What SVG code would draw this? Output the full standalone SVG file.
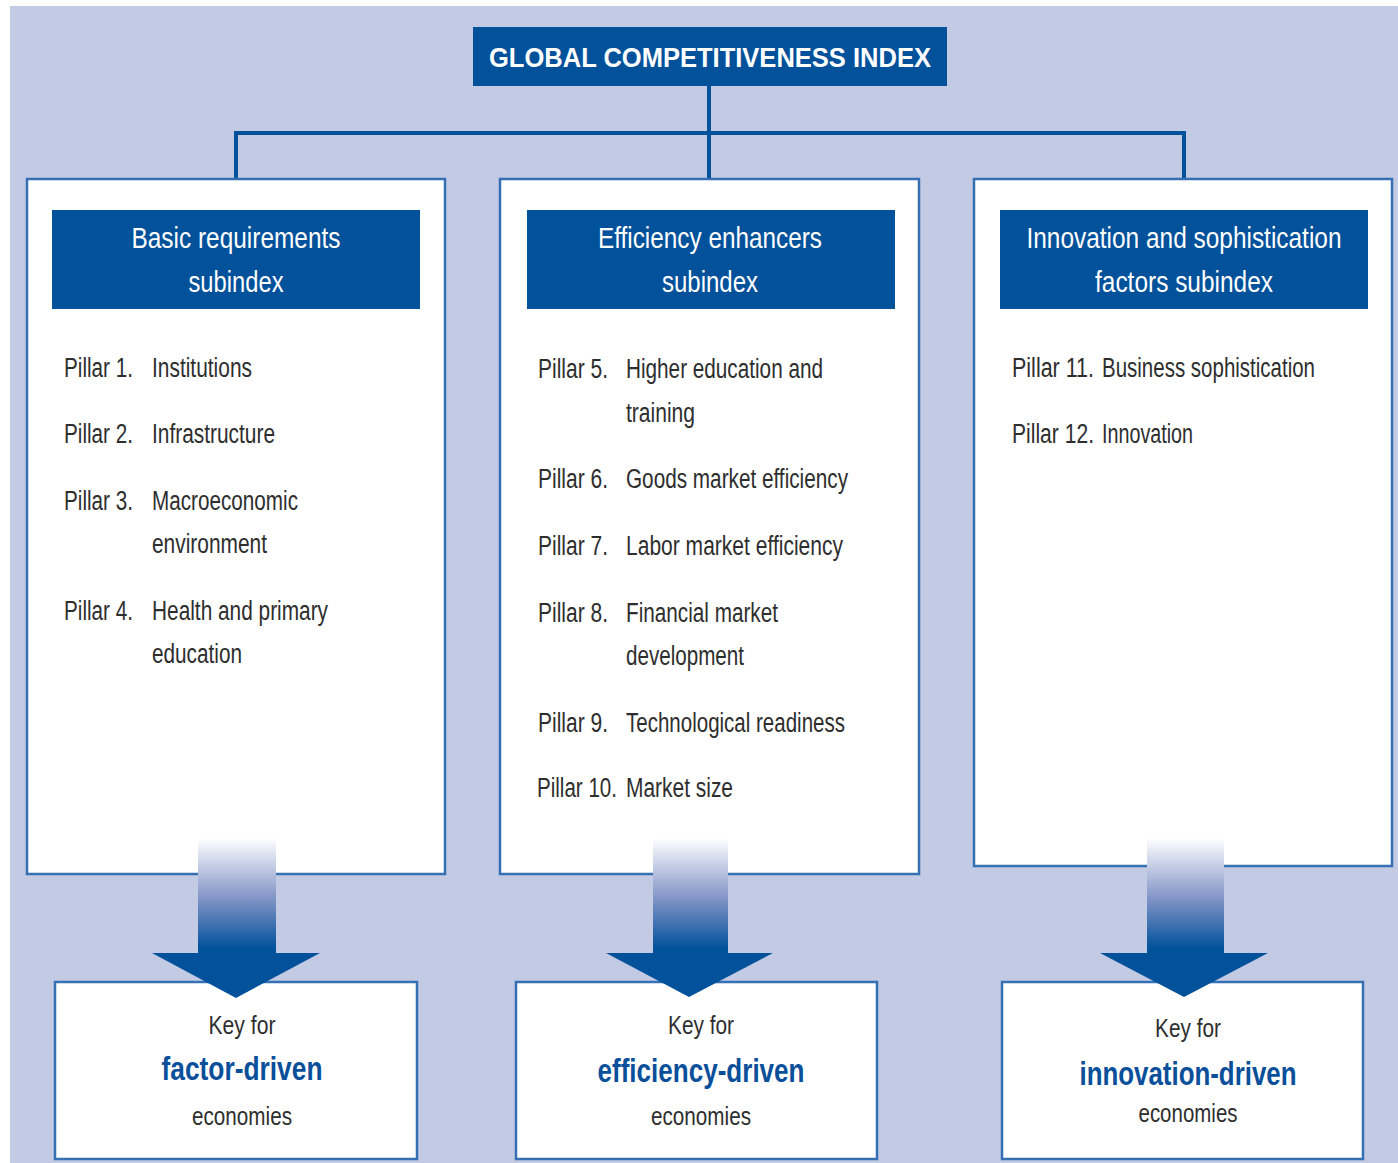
<svg xmlns="http://www.w3.org/2000/svg" width="1398" height="1163" viewBox="0 0 1398 1163">
<style>
.bg{fill:#C3CAE3}
.dark{fill:#02519B}
.panel{fill:#FFFFFF;stroke:#3670B4;stroke-width:2.5}
.conn{fill:none;stroke:#02519B;stroke-width:4}
.t{font-family:"Liberation Sans Narrow","Liberation Sans",Arial,sans-serif}
.title{font-family:"Liberation Sans",Arial,sans-serif;font-weight:bold;font-size:27px;fill:#FFFFFF}
.hdr{font-size:30px;fill:#FFFFFF;text-anchor:middle}
.pl{font-size:27px;fill:#2E2E2E}
.key{font-size:26px;fill:#2E2E2E;text-anchor:middle}
.drv{font-size:33px;font-weight:bold;fill:#0A4F9A;text-anchor:middle}
</style>
<defs>
<linearGradient id="shaft" x1="0" y1="0" x2="0" y2="1">
<stop offset="0" stop-color="#FFFFFF"/>
<stop offset="0.5" stop-color="#8798C9"/>
<stop offset="0.95" stop-color="#02519B"/>
<stop offset="1" stop-color="#02519B"/>
</linearGradient>
</defs>
<rect class="bg" x="10" y="6" width="1388" height="1157"/>

<g id="connectors">
<path class="conn" d="M709,86 V179"/>
<path class="conn" d="M236,179 V133 H1184 V179"/>
</g>

<g id="gci">
<rect class="dark" x="473" y="27" width="474" height="59"/>
<text class="title" x="489" y="67" textLength="442" lengthAdjust="spacingAndGlyphs">GLOBAL COMPETITIVENESS INDEX</text>
</g>

<g id="basic">
<rect class="panel" x="27" y="179" width="418" height="695"/>
<rect class="dark" x="52" y="210" width="368" height="99"/>
<text class="t hdr" x="236" y="248" textLength="209" lengthAdjust="spacingAndGlyphs">Basic requirements</text>
<text class="t hdr" x="236" y="292" textLength="95" lengthAdjust="spacingAndGlyphs">subindex</text>
<text class="t pl" x="64" y="377" textLength="69" lengthAdjust="spacingAndGlyphs">Pillar 1.</text>
<text class="t pl" x="152" y="377" textLength="100" lengthAdjust="spacingAndGlyphs">Institutions</text>
<text class="t pl" x="64" y="443" textLength="69" lengthAdjust="spacingAndGlyphs">Pillar 2.</text>
<text class="t pl" x="152" y="443" textLength="123" lengthAdjust="spacingAndGlyphs">Infrastructure</text>
<text class="t pl" x="64" y="510" textLength="69" lengthAdjust="spacingAndGlyphs">Pillar 3.</text>
<text class="t pl" x="152" y="510" textLength="146" lengthAdjust="spacingAndGlyphs">Macroeconomic</text>
<text class="t pl" x="152" y="553" textLength="115" lengthAdjust="spacingAndGlyphs">environment</text>
<text class="t pl" x="64" y="620" textLength="69" lengthAdjust="spacingAndGlyphs">Pillar 4.</text>
<text class="t pl" x="152" y="620" textLength="176" lengthAdjust="spacingAndGlyphs">Health and primary</text>
<text class="t pl" x="152" y="663" textLength="90" lengthAdjust="spacingAndGlyphs">education</text>
</g>

<g id="efficiency">
<rect class="panel" x="500" y="179" width="419" height="695"/>
<rect class="dark" x="527" y="210" width="368" height="99"/>
<text class="t hdr" x="710" y="248" textLength="224" lengthAdjust="spacingAndGlyphs">Efficiency enhancers</text>
<text class="t hdr" x="710" y="292" textLength="96" lengthAdjust="spacingAndGlyphs">subindex</text>
<text class="t pl" x="538" y="378" textLength="70" lengthAdjust="spacingAndGlyphs">Pillar 5.</text>
<text class="t pl" x="626" y="378" textLength="197" lengthAdjust="spacingAndGlyphs">Higher education and</text>
<text class="t pl" x="626" y="422" textLength="69" lengthAdjust="spacingAndGlyphs">training</text>
<text class="t pl" x="538" y="488" textLength="70" lengthAdjust="spacingAndGlyphs">Pillar 6.</text>
<text class="t pl" x="626" y="488" textLength="222" lengthAdjust="spacingAndGlyphs">Goods market efficiency</text>
<text class="t pl" x="538" y="555" textLength="70" lengthAdjust="spacingAndGlyphs">Pillar 7.</text>
<text class="t pl" x="626" y="555" textLength="217" lengthAdjust="spacingAndGlyphs">Labor market efficiency</text>
<text class="t pl" x="538" y="622" textLength="70" lengthAdjust="spacingAndGlyphs">Pillar 8.</text>
<text class="t pl" x="626" y="622" textLength="152" lengthAdjust="spacingAndGlyphs">Financial market</text>
<text class="t pl" x="626" y="665" textLength="118" lengthAdjust="spacingAndGlyphs">development</text>
<text class="t pl" x="538" y="732" textLength="70" lengthAdjust="spacingAndGlyphs">Pillar 9.</text>
<text class="t pl" x="626" y="732" textLength="219" lengthAdjust="spacingAndGlyphs">Technological readiness</text>
<text class="t pl" x="537" y="797" textLength="80" lengthAdjust="spacingAndGlyphs">Pillar 10.</text>
<text class="t pl" x="626" y="797" textLength="107" lengthAdjust="spacingAndGlyphs">Market size</text>
</g>

<g id="innovation">
<rect class="panel" x="974" y="179" width="418" height="687"/>
<rect class="dark" x="1000" y="210" width="368" height="99"/>
<text class="t hdr" x="1184" y="248" textLength="315" lengthAdjust="spacingAndGlyphs">Innovation and sophistication</text>
<text class="t hdr" x="1184" y="292" textLength="178" lengthAdjust="spacingAndGlyphs">factors subindex</text>
<text class="t pl" x="1012" y="377" textLength="82" lengthAdjust="spacingAndGlyphs">Pillar 11.</text>
<text class="t pl" x="1102" y="377" textLength="213" lengthAdjust="spacingAndGlyphs">Business sophistication</text>
<text class="t pl" x="1012" y="443" textLength="82" lengthAdjust="spacingAndGlyphs">Pillar 12.</text>
<text class="t pl" x="1102" y="443" textLength="91" lengthAdjust="spacingAndGlyphs">Innovation</text>
</g>

<g id="factor-driven">
<rect class="panel" x="55" y="982" width="362" height="177"/>
<text class="t key" x="242" y="1034" textLength="67" lengthAdjust="spacingAndGlyphs">Key for</text>
<text class="t drv" x="242" y="1080" textLength="161" lengthAdjust="spacingAndGlyphs">factor-driven</text>
<text class="t key" x="242" y="1125" textLength="100" lengthAdjust="spacingAndGlyphs">economies</text>
</g>

<g id="efficiency-driven">
<rect class="panel" x="516" y="982" width="361" height="177"/>
<text class="t key" x="701" y="1034" textLength="66" lengthAdjust="spacingAndGlyphs">Key for</text>
<text class="t drv" x="701" y="1082" textLength="207" lengthAdjust="spacingAndGlyphs">efficiency-driven</text>
<text class="t key" x="701" y="1125" textLength="100" lengthAdjust="spacingAndGlyphs">economies</text>
</g>

<g id="innovation-driven">
<rect class="panel" x="1002" y="982" width="361" height="177"/>
<text class="t key" x="1188" y="1037" textLength="66" lengthAdjust="spacingAndGlyphs">Key for</text>
<text class="t drv" x="1188" y="1085" textLength="217" lengthAdjust="spacingAndGlyphs">innovation-driven</text>
<text class="t key" x="1188" y="1122" textLength="99" lengthAdjust="spacingAndGlyphs">economies</text>
</g>

<g id="arrows">
<rect x="198" y="838" width="78" height="116" fill="url(#shaft)"/>
<polygon class="dark" points="152,953 320,953 236,998"/>
<rect x="653" y="838" width="75" height="116" fill="url(#shaft)"/>
<polygon class="dark" points="606,953 773,953 689,997"/>
<rect x="1147" y="838" width="77" height="116" fill="url(#shaft)"/>
<polygon class="dark" points="1100,953 1268,953 1184,997"/>
</g>
</svg>
